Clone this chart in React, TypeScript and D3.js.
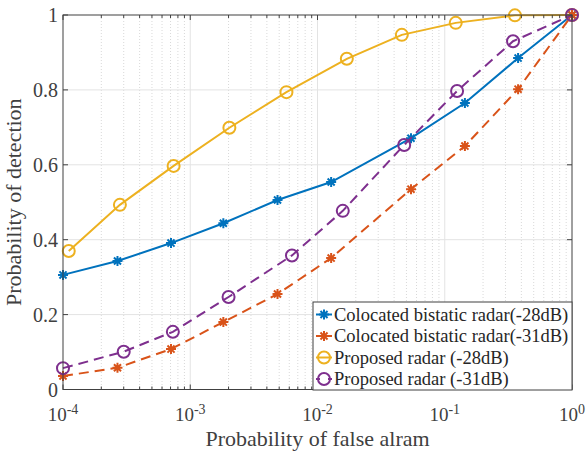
import React from "react";
import * as d3 from "d3";

// False-alarm probabilities at which each curve was evaluated
const pfaColocated = [1e-4, 2.68e-4, 7.06e-4, 1.82e-3, 4.85e-3, 1.28e-2, 5.43e-2, 0.144, 0.377, 1];
const pfaProposed28 = [1.11e-4, 2.8e-4, 7.4e-4, 2.03e-3, 5.7e-3, 1.7e-2, 4.6e-2, 0.122, 0.356, 1];
const pfaProposed31 = [1e-4, 3.0e-4, 7.3e-4, 2.0e-3, 6.3e-3, 1.58e-2, 4.8e-2, 0.125, 0.344, 1];

// Detection probabilities
const pdColocated28 = [0.306, 0.343, 0.391, 0.444, 0.506, 0.554, 0.671, 0.765, 0.885, 1];
const pdColocated31 = [0.036, 0.058, 0.108, 0.18, 0.255, 0.351, 0.535, 0.65, 0.802, 1];
const pdProposed28 = [0.37, 0.493, 0.597, 0.699, 0.794, 0.883, 0.947, 0.979, 0.999, 1];
const pdProposed31 = [0.057, 0.101, 0.154, 0.247, 0.358, 0.477, 0.653, 0.797, 0.93, 1];

const seriesNames = [
  "Colocated bistatic radar(-28dB)",
  "Colocated bistatic radar(-31dB)",
  "Proposed radar (-28dB)",
  "Proposed radar (-31dB)",
];

const xTickExponents = [-4, -3, -2, -1, 0];
const yTicks = [0, 0.2, 0.4, 0.6, 0.8, 1];

const FONT = "'Liberation Serif', 'Times New Roman', serif";
const AXIS = "#404040";

type Series = {
  name: string;
  x: number[];
  y: number[];
  color: string;
  marker: "star" | "circle";
  dashed: boolean;
};

const series: Series[] = [
  { name: seriesNames[0], x: pfaColocated, y: pdColocated28, color: "#0072BD", marker: "star", dashed: false },
  { name: seriesNames[1], x: pfaColocated, y: pdColocated31, color: "#D95319", marker: "star", dashed: true },
  { name: seriesNames[2], x: pfaProposed28, y: pdProposed28, color: "#EDB120", marker: "circle", dashed: false },
  { name: seriesNames[3], x: pfaProposed31, y: pdProposed31, color: "#7E2F8E", marker: "circle", dashed: true },
];

function Marker({ kind, cx, cy, color }: { kind: "star" | "circle"; cx: number; cy: number; color: string }) {
  if (kind === "circle") {
    return <circle cx={cx} cy={cy} r={6} fill="none" stroke={color} strokeWidth={2} />;
  }
  const r = 5;
  const d = r * Math.SQRT1_2;
  const path = `M${cx - r},${cy}L${cx + r},${cy}M${cx},${cy - r}L${cx},${cy + r}` +
    `M${cx - d},${cy - d}L${cx + d},${cy + d}M${cx - d},${cy + d}L${cx + d},${cy - d}`;
  return <path d={path} stroke={color} strokeWidth={2} fill="none" />;
}

export default function App() {
  const width = 586;
  const height = 455;
  const left = 63;
  const right = 572;
  const top = 15;
  const bottom = 389.5;

  const x = d3.scaleLog().domain([1e-4, 1]).range([left, right]);
  const y = d3.scaleLinear().domain([0, 1]).range([bottom, top]);

  const minorTicks: number[] = [];
  for (let e = -4; e < 0; e++) {
    for (let m = 2; m <= 9; m++) minorTicks.push(m * Math.pow(10, e));
  }

  const line = d3
    .line<[number, number]>()
    .x((d) => x(d[0]))
    .y((d) => y(d[1]));

  const legend = { x0: 313, y0: 302, x1: 572, y1: 390 };
  const rowY = [314.5, 336, 357.5, 379];

  return (
    <svg width={width} height={height} style={{ position: "absolute", left: 0, top: 0 }} fontFamily={FONT}>
      <rect x={0} y={0} width={width} height={height} fill="#fff" />

      {/* minor grid (x only) */}
      {minorTicks.map((t, i) => (
        <line key={"mg" + i} x1={x(t)} x2={x(t)} y1={top} y2={bottom} stroke="#d9d9d9" strokeWidth={1} strokeDasharray="1,2" />
      ))}
      {/* major grid */}
      {xTickExponents.slice(1, -1).map((e) => (
        <line key={"gx" + e} x1={x(Math.pow(10, e))} x2={x(Math.pow(10, e))} y1={top} y2={bottom} stroke="#e3e3e3" strokeWidth={1} />
      ))}
      {yTicks.slice(1, -1).map((t) => (
        <line key={"gy" + t} x1={left} x2={right} y1={y(t)} y2={y(t)} stroke="#e3e3e3" strokeWidth={1} />
      ))}

      {/* curves */}
      {series.map((s) => (
        <g key={s.name}>
          <path
            d={line(s.x.map((v, i) => [v, s.y[i]] as [number, number])) || ""}
            fill="none"
            stroke={s.color}
            strokeWidth={2}
            strokeDasharray={s.dashed ? "10,6" : undefined}
          />
          {s.x.map((v, i) => (
            <Marker key={i} kind={s.marker} cx={x(v)} cy={y(s.y[i])} color={s.color} />
          ))}
        </g>
      ))}

      {/* axes box */}
      <rect x={left} y={top} width={right - left} height={bottom - top} fill="none" stroke={AXIS} strokeWidth={1} />
      {xTickExponents.map((e) => {
        const px = x(Math.pow(10, e));
        return (
          <g key={"xt" + e}>
            <line x1={px} x2={px} y1={bottom} y2={bottom - 5} stroke={AXIS} />
            <line x1={px} x2={px} y1={top} y2={top + 5} stroke={AXIS} />
            <text x={px} y={421} textAnchor="middle" fontSize={19} fill={AXIS}>
              10<tspan dy={-7} fontSize={14}>{String(e)}</tspan>
            </text>
          </g>
        );
      })}
      {minorTicks.map((t, i) => (
        <g key={"mt" + i}>
          <line x1={x(t)} x2={x(t)} y1={bottom} y2={bottom - 3} stroke={AXIS} />
          <line x1={x(t)} x2={x(t)} y1={top} y2={top + 3} stroke={AXIS} />
        </g>
      ))}
      {yTicks.map((t) => (
        <g key={"yt" + t}>
          <line x1={left} x2={left + 5} y1={y(t)} y2={y(t)} stroke={AXIS} />
          <line x1={right} x2={right - 5} y1={y(t)} y2={y(t)} stroke={AXIS} />
          <text x={58} y={y(t) + 7} textAnchor="end" fontSize={20} fill={AXIS}>
            {t === 0 || t === 1 ? String(t) : t.toFixed(1)}
          </text>
        </g>
      ))}

      {/* axis titles */}
      <text x={(left + right) / 2} y={446} textAnchor="middle" fontSize={22} fill={AXIS}>
        Probability of false alram
      </text>
      <text
        transform={`translate(21,${(top + bottom) / 2}) rotate(-90)`}
        textAnchor="middle"
        fontSize={22}
        fill={AXIS}
      >
        Probability of detection
      </text>

      {/* legend */}
      <rect x={legend.x0} y={legend.y0} width={legend.x1 - legend.x0} height={legend.y1 - legend.y0} fill="#fff" stroke={AXIS} strokeWidth={1} />
      {series.map((s, i) => (
        <g key={"lg" + i}>
          <line
            x1={316}
            x2={332}
            y1={rowY[i]}
            y2={rowY[i]}
            stroke={s.color}
            strokeWidth={2}
            strokeDasharray={s.dashed ? "4,8" : undefined}
          />
          <Marker kind={s.marker} cx={324} cy={rowY[i]} color={s.color} />
          <text x={334} y={rowY[i] + 6} fontSize={18.5} fill="#262626">
            {s.name}
          </text>
        </g>
      ))}
    </svg>
  );
}
